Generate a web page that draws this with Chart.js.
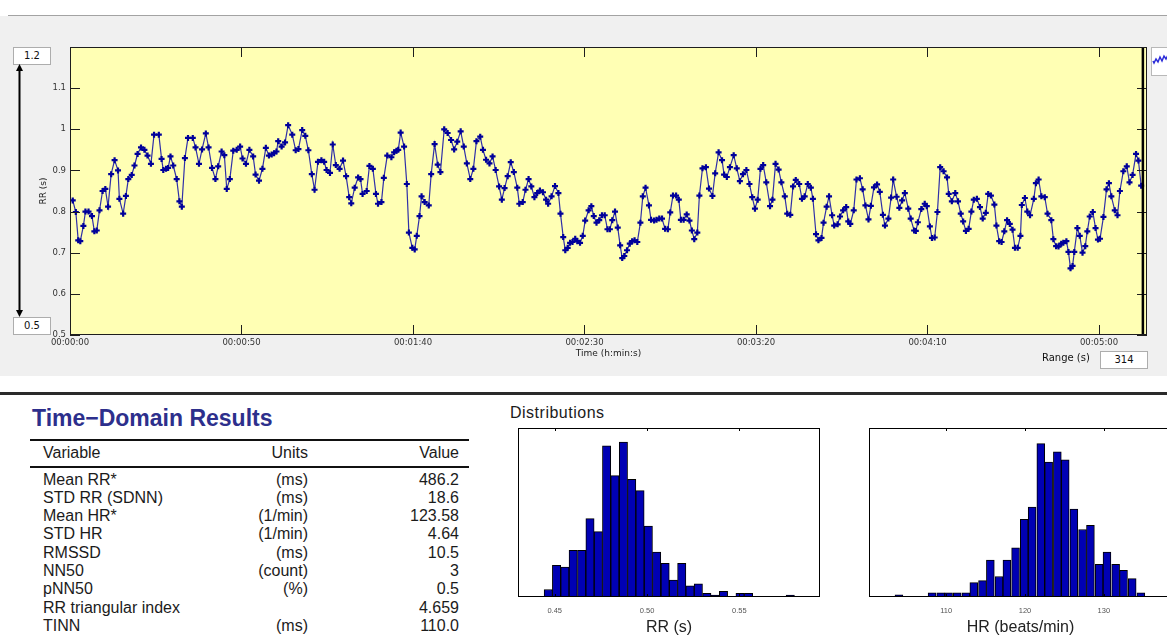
<!DOCTYPE html>
<html>
<head>
<meta charset="utf-8">
<script src="https://cdn.jsdelivr.net/npm/chart.js@4.4.1/dist/chart.umd.min.js"></script>
<style>
  html, body { margin: 0; padding: 0; }
  body { width: 1167px; height: 637px; overflow: hidden; position: relative; background: #fff;
         font-family: "Liberation Sans", Arial, sans-serif; color: #1b1b1b; }
  .abs { position: absolute; }
  #panel { left: 0; top: 16px; width: 1167px; height: 360px; background: #f0f0f0; }
  #panelLine { left: 8px; top: 15px; width: 1159px; height: 1px; background: #a3a3a3; }
  #sep { left: 0; top: 392px; width: 1167px; height: 3px; background: #2a2a2a; }
  .limbox { left: 13px; width: 36px; height: 16px; background: #fff; border: 1px solid #adadad;
            font: 10px "DejaVu Sans", sans-serif; color: #111; text-align: center; line-height: 16px; }
  #rangeLbl { left: 1042px; top: 352px; font: 10px "DejaVu Sans", sans-serif; color: #111; }
  #rangeBox { left: 1100px; top: 351px; width: 46px; height: 16px; background: #fff; border: 1px solid #adadad;
              font: 10px "DejaVu Sans", sans-serif; color: #111; text-align: center; line-height: 16px; }
  #thumb { left: 1151px; top: 47px; width: 20px; height: 27px; background: #fff; border: 1px solid #b8b8b8; }
  #tdTitle { left: 32px; top: 407px; font: bold 23px "Liberation Sans", Arial, sans-serif; line-height: 23px;
             color: #2d2f8c; white-space: nowrap; }
  #td { left: 30px; top: 439px; width: 439px; border-collapse: separate; border-spacing: 0; table-layout: fixed;
        font-size: 16px; color: #1b1b1b; }
  #td th { font-weight: normal; line-height: 18px; padding: 3px 0 4px 0; border-top: 2px solid #111; border-bottom: 2px solid #111; }
  #td td { line-height: 18.3px; padding: 0; white-space: nowrap; }
  #td tbody tr:first-child td { padding-top: 2.5px; }
  #td .c1 { text-align: left; padding-left: 13px; }
  #td .c2 { text-align: right; }
  #td .c3 { text-align: right; padding-right: 10px; }
  #distLbl { left: 510px; top: 405px; font-size: 16px; line-height: 16px; letter-spacing: 0.5px; color: #1b1b1b; }
</style>
</head>
<body>
<div id="panel" class="abs"></div>
<div id="panelLine" class="abs"></div>
<canvas id="tacho" class="abs" style="left:0;top:17px" width="1167" height="348"></canvas>

<div class="abs limbox" style="top:47px">1.2</div>
<div class="abs limbox" style="top:317px">0.5</div>
<svg class="abs" style="left:0;top:0" width="60" height="340">
  <line x1="19.5" y1="68" x2="19.5" y2="312" stroke="#000" stroke-width="2"/>
  <polygon points="19.5,64 16,71 23,71" fill="#000"/>
  <polygon points="19.5,317 16,310 23,310" fill="#000"/>
</svg>
<div id="thumb" class="abs">
  <svg width="20" height="27"><polyline points="1,13 2,15 4,11 6,14 8,9 10,13 12,8 14,11 16,7 18,10 19,8" fill="none" stroke="#2a2ad8" stroke-width="1.5"/></svg>
</div>
<div id="rangeLbl" class="abs">Range (s)</div>
<div id="rangeBox" class="abs">314</div>
<div id="sep" class="abs"></div>

<div id="tdTitle" class="abs">Time−Domain Results</div>
<table id="td" class="abs">
  <colgroup><col style="width:200px"><col style="width:78px"><col style="width:161px"></colgroup>
  <thead><tr><th class="c1">Variable</th><th class="c2">Units</th><th class="c3">Value</th></tr></thead>
  <tbody id="tdBody"></tbody>
</table>

<div id="distLbl" class="abs">Distributions</div>
<canvas id="rrHist" class="abs" style="left:500px;top:420px" width="340" height="217"></canvas>
<canvas id="hrHist" class="abs" style="left:850px;top:420px" width="330" height="217"></canvas>

<script>
// RR tachogram, beat times (s) and RR intervals (s)
const beatTime = [
  0.8,1.7,2.4,3.0,3.9,4.5,5.4,6.4,7.1,7.8,8.6,9.5,10.3,11.1,12.0,13.0,14.0,14.4,15.5,16.3,
  17.0,18.0,18.8,19.7,20.7,21.7,22.6,23.6,24.5,25.9,26.7,27.2,28.0,28.6,29.3,30.1,31.1,31.9,32.6,33.5,
  34.4,35.8,36.6,37.6,38.5,39.6,40.4,41.4,42.4,43.2,44.2,45.0,45.7,46.6,47.6,48.6,49.6,50.3,51.3,
  52.3,53.4,54.1,55.1,56.1,57.1,58.0,58.8,59.5,60.2,60.7,61.7,62.7,63.6,64.8,65.8,66.6,67.7,68.6,69.5,
  70.5,71.3,72.3,73.3,74.1,74.8,75.8,76.6,77.5,78.6,79.6,80.5,81.4,82.0,83.0,84.0,84.7,85.3,86.5,87.3,
  88.3,89.2,89.8,90.8,91.5,92.5,93.7,94.5,95.2,95.7,96.4,97.4,98.2,98.8,99.8,100.5,101.1,101.9,102.5,103.4,
  104.6,105.3,106.3,107.2,108.0,109.1,110.1,111.1,112.0,112.9,113.9,114.8,115.7,116.7,117.6,118.5,119.6,120.4,121.3,122.3,
  123.2,124.1,125.1,125.9,126.7,127.6,128.5,129.4,130.4,131.0,132.0,132.8,133.7,134.5,135.4,136.2,137.0,137.9,138.8,139.4,
  140.4,141.4,142.4,143.0,143.8,144.4,145.1,145.8,146.5,147.3,147.9,148.7,149.5,150.2,151.2,152.0,152.7,153.5,154.3,155.1,
  155.9,156.7,157.4,158.1,158.9,159.7,160.4,161.0,161.6,162.4,163.2,163.9,164.6,165.4,166.3,167.0,167.8,168.8,169.4,170.3,
  171.0,171.8,172.6,173.5,174.3,175.0,175.8,176.7,177.5,178.1,178.9,179.8,180.6,181.3,182.0,182.9,183.5,184.4,185.4,186.3,
  187.3,188.1,189.1,190.1,190.7,191.5,192.4,193.5,194.4,195.3,196.2,197.2,198.1,198.9,199.7,200.5,201.3,202.1,203.0,204.1,
  204.8,205.7,206.6,207.4,
  208.4,209.1,210.0,210.8,211.6,212.6,213.4,214.2,215.1,216.0,216.6,217.5,218.2,219.1,219.7,220.6,221.3,222.2,222.8,223.8,
  224.5,225.4,226.3,226.9,227.5,228.5,229.3,230.3,231.1,231.9,232.8,233.5,234.4,235.3,236.1,237.0,237.6,238.6,239.4,240.0,
  241.0,241.8,242.6,243.4,244.4,245.1,246.1,246.6,247.2,248.2,249.2,249.8,250.7,251.3,252.1,252.9,253.7,254.7,255.7,256.2,
  257.1,258.1,258.9,
  259.7,260.4,261.2,262.0,262.8,263.5,264.4,265.3,266.1,267.0,267.7,268.5,269.5,270.1,270.9,271.6,272.4,273.2,274.0,274.8,
  275.5,276.3,277.1,277.5,278.4,279.1,279.9,281.0,281.6,282.4,283.2,284.2,285.0,286.1,286.7,287.5,288.2,289.0,289.6,290.5,
  291.1,291.7,292.3,292.8,293.7,294.4,295.2,296.0,296.6,297.3,298.2,299.0,299.7,300.3,301.3,302.2,302.9,303.6,304.6,305.4,
  306.1,307.1,308.1,308.9,309.8,310.8,311.5,312.3
];
const rrSec = [
  0.827,0.799,0.730,0.728,0.765,0.800,0.800,0.789,0.752,0.754,0.803,0.850,0.855,0.812,0.891,0.925,0.900,0.831,0.795,0.838,
  0.879,0.889,0.912,0.940,0.956,0.950,0.936,0.916,0.987,0.987,0.928,0.901,0.904,0.906,0.934,0.912,0.879,0.825,0.812,0.930,
  0.979,0.979,0.956,0.916,0.951,0.990,0.956,0.906,0.879,0.910,0.946,0.937,0.855,0.879,0.948,0.950,0.958,0.929,0.916,
  0.950,0.934,0.890,0.875,0.904,0.955,0.936,0.939,0.942,0.946,0.971,0.958,0.968,1.010,0.987,0.949,0.952,0.998,0.984,0.949,
  0.891,0.853,0.921,0.925,0.921,0.901,0.894,0.963,0.913,0.904,0.924,0.886,0.835,0.820,0.858,0.883,0.879,0.843,0.850,0.911,
  0.904,0.843,0.819,0.823,0.882,0.936,0.932,0.944,0.948,0.950,0.992,0.958,0.867,0.749,0.712,0.708,0.741,0.789,0.837,0.823,
  0.815,0.891,0.964,0.914,0.896,1.000,0.991,0.974,0.951,0.970,0.995,0.958,0.917,0.879,0.904,0.971,0.982,0.950,0.926,0.917,
  0.934,0.901,0.861,0.829,0.857,0.886,0.920,0.896,0.858,0.819,0.823,0.853,0.879,0.861,0.835,0.845,0.851,0.847,0.829,0.819,
  0.837,0.862,0.845,0.795,0.738,0.706,0.712,0.724,0.726,0.734,0.728,0.724,0.741,0.778,0.803,0.813,0.789,0.773,0.779,0.791,
  0.791,0.757,0.757,0.779,0.800,0.761,0.718,0.687,0.692,0.706,0.722,0.728,0.730,0.726,0.773,0.837,0.858,0.815,0.780,0.778,
  0.780,0.783,0.783,0.758,0.757,0.798,0.839,0.839,0.829,0.780,0.780,0.793,0.778,0.754,0.733,0.749,0.839,0.905,0.908,0.856,
  0.838,0.893,0.944,0.925,0.890,0.884,0.908,0.937,0.905,0.874,0.891,0.901,0.867,0.835,0.807,0.829,0.904,0.913,0.871,0.813,
  0.829,0.916,0.902,0.871,
  0.837,0.795,0.792,0.861,0.877,0.867,0.831,0.837,0.867,0.858,0.831,0.745,0.730,0.736,0.773,0.812,0.837,0.791,0.766,0.769,
  0.788,0.803,0.811,0.776,0.770,0.803,0.878,0.881,0.854,0.815,0.781,0.814,0.859,0.866,0.848,0.792,0.766,0.783,0.834,0.878,
  0.836,0.809,0.827,0.845,0.807,0.783,0.754,0.753,0.774,0.806,0.819,0.813,0.764,0.736,0.737,0.799,0.908,0.898,0.883,0.843,
  0.825,0.845,0.825,
  0.795,0.776,0.753,0.758,0.800,0.829,0.831,0.811,0.783,0.797,0.843,0.839,0.817,0.766,0.728,0.726,0.752,0.779,0.770,0.756,
  0.712,0.712,0.741,0.816,0.833,0.800,0.791,0.831,0.869,0.878,0.837,0.835,0.795,0.779,0.733,0.716,0.715,0.722,0.724,0.728,
  0.702,0.662,0.668,0.702,0.760,0.741,0.700,0.716,0.752,0.788,0.799,0.760,0.732,0.734,0.787,0.854,0.869,0.837,0.803,0.791,
  0.850,0.898,0.910,0.871,0.889,0.940,0.924,0.863
];
const rangeSec = 314;
const windowEnd = 312.8;
const rrAxisMin = 0.5, rrAxisMax = 1.2;

// time-domain table
const hrvNames = ['Mean RR*', 'STD RR (SDNN)', 'Mean HR*', 'STD HR', 'RMSSD', 'NN50', 'pNN50', 'RR triangular index', 'TINN'];
const hrvUnits = ['(ms)', '(ms)', '(1/min)', '(1/min)', '(ms)', '(count)', '(%)', '', '(ms)'];
const hrvValues = ['486.2', '18.6', '123.58', '4.64', '10.5', '3', '0.5', '4.659', '110.0'];

// histograms (bin centre, count)
const rrBins = [0.4465,0.4510,0.4555,0.4600,0.4646,0.4691,0.4736,0.4781,0.4826,0.4872,0.4917,0.4962,0.5007,0.5052,0.5098,
                0.5143,0.5188,0.5233,0.5278,0.5324,0.5369,0.5414,0.5459,0.5504,0.5550,0.5595,0.5640,0.5685,0.5730,0.5776];
const rrCounts = [4,17,16,25,25,42,35,81,65,83,63,57,38,24,18,9,18,6,7,2,1,3,0,2,2,0,0,0,0,1];
const hrBins = [104.0,105.1,106.1,107.2,108.2,109.3,110.3,111.4,112.5,113.5,114.6,115.6,116.7,117.7,118.8,
                119.9,120.9,122.0,123.0,124.1,125.1,126.2,127.3,128.3,129.4,130.4,131.5,132.5,133.6,134.7];
const hrCounts = [1,0,0,0,2,2,2,2,2,7,8,18,10,18,24,38,44,75,66,71,67,43,33,35,16,22,16,13,9,2];

// fill the table
const tbody = document.getElementById('tdBody');
hrvNames.forEach((n, i) => {
  const tr = document.createElement('tr');
  [[n, 'c1'], [hrvUnits[i], 'c2'], [hrvValues[i], 'c3']].forEach(([txt, cls]) => {
    const td = document.createElement('td');
    td.className = cls;
    td.textContent = txt;
    tr.appendChild(td);
  });
  tbody.appendChild(tr);
});

function hms(v) {
  const s = Math.round(v);
  const pad = n => String(n).padStart(2, '0');
  return pad(Math.floor(s / 3600)) + ':' + pad(Math.floor(s / 60) % 60) + ':' + pad(s % 60);
}

// yellow plot box, frame, inward tick marks, window cursor
const framePlugin = {
  id: 'frame',
  beforeDraw(chart, args, opts) {
    const { ctx, chartArea: a } = chart;
    if (!opts.fill) return;
    ctx.save();
    ctx.fillStyle = opts.fill;
    ctx.fillRect(a.left, a.top, a.right - a.left, a.bottom - a.top);
    ctx.restore();
  },
  afterDraw(chart, args, opts) {
    const { ctx, chartArea: a, scales } = chart;
    ctx.save();
    ctx.strokeStyle = opts.color || '#000';
    ctx.lineWidth = 1;
    const seg = (x1, y1, x2, y2) => { ctx.beginPath(); ctx.moveTo(x1, y1); ctx.lineTo(x2, y2); ctx.stroke(); };
    const len = opts.tickLen || 4;
    scales.x.ticks.forEach(t => {
      const px = Math.round(scales.x.getPixelForValue(t.value)) + 0.5;
      seg(px, a.top, px, a.top + len);
      seg(px, a.bottom, px, a.bottom - len);
    });
    if (opts.yTicks) {
      scales.y.ticks.forEach(t => {
        const py = Math.round(scales.y.getPixelForValue(t.value)) + 0.5;
        seg(a.left, py, a.left + len, py);
        seg(a.right, py, a.right - len, py);
      });
    }
    if (opts.cursor !== undefined) {
      const cx = scales.x.getPixelForValue(opts.cursor);
      ctx.lineWidth = 2.5;
      ctx.strokeStyle = '#000';
      seg(cx, a.top, cx, a.bottom);
    }
    ctx.lineWidth = 1;
    ctx.strokeStyle = opts.color || '#000';
    ctx.strokeRect(Math.round(a.left) + 0.5, Math.round(a.top) + 0.5,
                   Math.round(a.right - a.left) - 1, Math.round(a.bottom - a.top) - 1);
    ctx.restore();
  }
};

const smallFont = { family: '"DejaVu Sans", sans-serif', size: 8.5 };

new Chart(document.getElementById('tacho'), {
  type: 'line',
  data: {
    datasets: [{
      data: beatTime.map((t, i) => ({ x: t, y: rrSec[i] })),
      borderColor: '#2f2fa8',
      borderWidth: 1.2,
      pointStyle: 'cross',
      pointRadius: 3,
      pointBorderWidth: 2.2,
      pointBorderColor: '#00009a',
      pointBackgroundColor: '#00009a',
      tension: 0
    }]
  },
  options: {
    responsive: false,
    animation: false,
    events: [],
    layout: { padding: { top: 30, right: 20, bottom: 0, left: 0 } },
    plugins: {
      legend: { display: false },
      tooltip: { enabled: false },
      frame: { fill: '#ffffb4', color: '#1e1e1e', tickLen: 10, yTicks: true, cursor: windowEnd }
    },
    scales: {
      x: {
        type: 'linear', min: 0, max: rangeSec,
        grid: { display: false, drawTicks: false },
        border: { display: false },
        ticks: { stepSize: 50, includeBounds: false, autoSkip: false, maxRotation: 0, padding: 3,
                 color: '#333', font: smallFont, callback: v => hms(v) },
        title: { display: true, text: 'Time (h:min:s)', color: '#222',
                 font: { family: '"DejaVu Sans", sans-serif', size: 9 }, padding: { top: 0, bottom: 6 } },
        afterFit: s => { s.height = 30; }
      },
      y: {
        min: rrAxisMin, max: rrAxisMax,
        grid: { display: false, drawTicks: false },
        border: { display: false },
        ticks: { stepSize: 0.1, padding: 4, color: '#333', font: smallFont,
                 callback: v => (v > 1.15 ? '' : String(+v.toFixed(1))) },
        title: { display: true, text: 'RR (s)', color: '#222',
                 font: { family: '"DejaVu Sans", sans-serif', size: 9 }, padding: { top: 38, bottom: 0 } },
        afterFit: s => { s.width = 70; }
      }
    }
  },
  plugins: [framePlugin]
});

function histogram(id, bins, counts, xMin, xMax, step, yMax, title, pad) {
  new Chart(document.getElementById(id), {
    type: 'bar',
    data: {
      datasets: [{
        data: bins.map((b, i) => ({ x: b, y: counts[i] })),
        backgroundColor: '#0000b4',
        borderColor: '#000',
        borderWidth: 1,
        barPercentage: 1,
        categoryPercentage: 1,
        grouped: false
      }]
    },
    options: {
      responsive: false,
      animation: false,
      events: [],
      layout: { padding: pad },
      plugins: {
        legend: { display: false },
        tooltip: { enabled: false },
        frame: { color: '#000', tickLen: 3 }
      },
      scales: {
        x: {
          type: 'linear', min: xMin, max: xMax, offset: false,
          grid: { display: false, drawTicks: false },
          border: { display: false },
          ticks: { stepSize: step, includeBounds: false, autoSkip: false, maxRotation: 0, padding: 9,
                   color: '#555', font: { family: '"Liberation Sans", Arial, sans-serif', size: 7.5 } },
          title: { display: true, text: title, color: '#222',
                   font: { family: '"Liberation Sans", Arial, sans-serif', size: 16 }, padding: { top: 0, bottom: 0 } },
          afterFit: s => { s.height = 40; }
        },
        y: { display: false, min: 0, max: yMax }
      }
    },
    plugins: [framePlugin]
  });
}

histogram('rrHist', rrBins, rrCounts, 0.4301, 0.5937, 0.05, 90.5, 'RR (s)', { top: 8, right: 20, bottom: 0, left: 18 });
histogram('hrHist', hrBins, hrCounts, 100.2, 138.65, 10, 82.6, 'HR (beats/min)', { top: 8, right: 8, bottom: 0, left: 19 });
</script>
</body>
</html>
